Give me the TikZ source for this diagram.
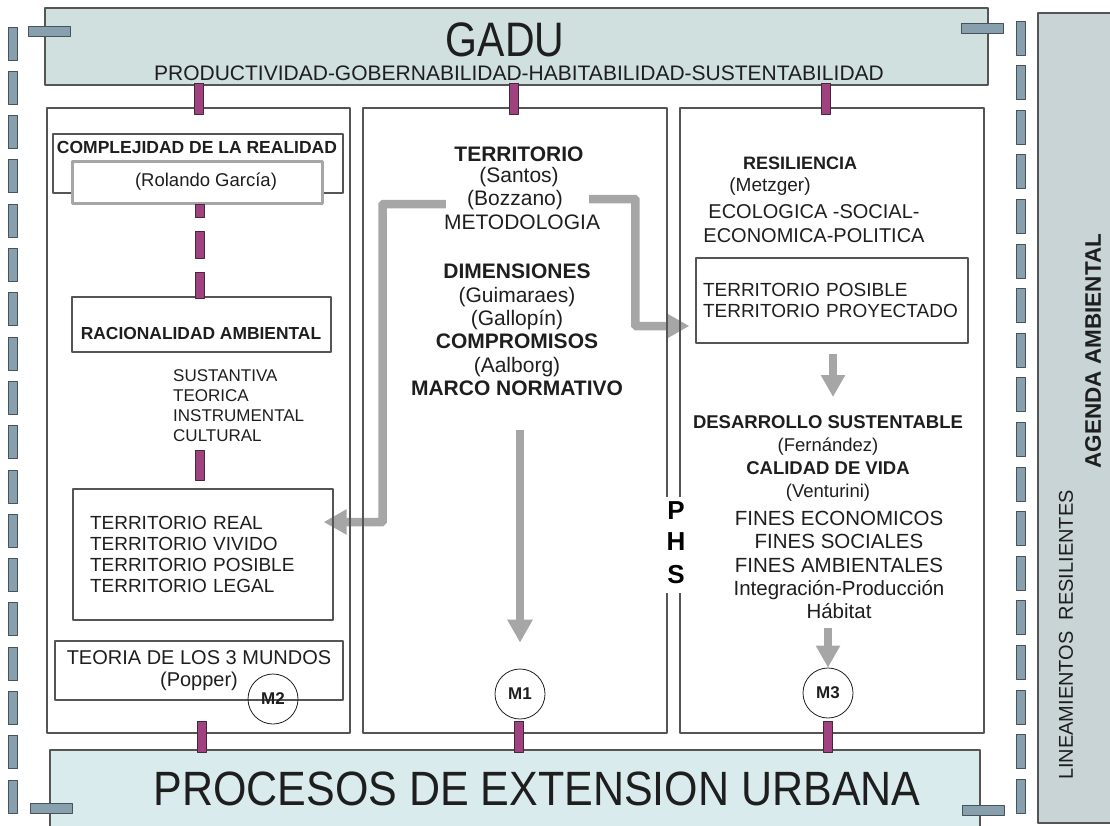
\documentclass[tikz,border=0pt]{standalone}
\usepackage{fontspec}
\setmainfont{Liberation Sans}
\usetikzlibrary{arrows.meta,backgrounds}
\definecolor{slate}{RGB}{136,160,174}
\definecolor{slatedk}{RGB}{72,82,92}
\definecolor{magent}{RGB}{160,66,128}
\definecolor{magentdk}{RGB}{70,40,60}
\definecolor{gadufill}{RGB}{208,224,222}
\definecolor{basefill}{RGB}{218,235,238}
\definecolor{panelfill}{RGB}{200,212,214}
\definecolor{arrgray}{RGB}{166,166,166}
\definecolor{edge}{RGB}{85,85,85}
\definecolor{ink}{RGB}{30,30,30}
\newcommand{\fs}[2]{\fontsize{#1}{#2}\selectfont}
\begin{document}
\begin{tikzpicture}[x=1pt,y=-1pt,line join=round]
	\tikzset{every node/.style={inner sep=0pt,align=center,text=ink},
		bx/.style={draw=edge,line width=1.3pt},
		bar/.style={draw=slatedk,fill=slate,line width=0.9pt},
		link/.style={draw=magentdk,fill=magent,line width=0.7pt},
		garrow/.style={draw=arrgray,line width=8.5pt,rounded corners=1pt,-{Triangle[length=23pt,width=24pt]}},
		mcirc/.style={draw=ink,circle,minimum size=50pt,line width=0.8pt,font=\bfseries\fs{17}{17}}}
	\useasboundingbox (0,0) rectangle (1110,825);
	% panel de la derecha
	\fill[panelfill] (1038,13) rectangle (1115,823);
	\draw[edge,line width=1.2pt] (1115,13) -- (1038,13) -- (1038,823) -- (1115,823);
	\node[rotate=90,font=\fs{20}{20}] (linea) at (1066,635) {LINEAMIENTOS~~RESILIENTES};
	\node[rotate=90,font=\bfseries\fs{22.5}{22.5}] (agenda) at (1093,351) {AGENDA AMBIENTAL};
	% GADU y base
	\draw[bx,fill=gadufill] (45,8) rectangle (988,85);
	\node[font=\fs{41}{41}] (gadu) at (505,40) {\scalebox{1}[1.18]{GADU}};
	\node[font=\fs{21}{21}] (prod) at (519,73) {PRODUCTIVIDAD-GOBERNABILIDAD-HABITABILIDAD-SUSTENTABILIDAD};
	\draw[bx,fill=basefill] (50,750) rectangle (980,830);
	\node[font=\fs{43}{43}] (proc) at (537,789) {\scalebox{1}[1.12]{PROCESOS DE EXTENSION URBANA}};
	% columna izquierda
	\draw[bx] (53,134) rectangle (343,193);
	\node[font=\bfseries\fs{17.5}{17.5}] (compl) at (197,147) {COMPLEJIDAD DE LA REALIDAD};
	\node[draw=arrgray,line width=3pt,fill=white,minimum width=250pt,minimum height=42pt,font=\fs{18.5}{18.5}] (rolando) at (197.5,182) {\hspace{17pt}(Rolando García)};
	\draw[bx] (72,297) rectangle (331,352);
	\node[font=\bfseries\fs{17.4}{17.4}] (racio) at (201,334) {RACIONALIDAD AMBIENTAL};
	\node[anchor=west,align=left,font=\fs{17}{20}] (sust) at (173,406) {SUSTANTIVA\\TEORICA\\INSTRUMENTAL\\CULTURAL};
	\node[bx,minimum width=260pt,minimum height=131pt,text width=226pt,inner sep=17pt,align=left,font=\fs{19}{21}] (treal) at (203,554.5) {TERRITORIO REAL\\TERRITORIO VIVIDO\\TERRITORIO POSIBLE\\TERRITORIO LEGAL};
	\node[bx,minimum width=288pt,minimum height=59pt,font=\fs{20}{22}] (teoria) at (199,670.5) {TEORIA DE LOS 3 MUNDOS\\(Popper)};
	\node[mcirc] (m2) at (273,699) {M2};
	% columna central
	\node[font=\fs{21}{21.5}] (mterr) at (519,167) {\textbf{TERRITORIO}\\(Santos)};
	\node[font=\fs{21}{21}] (bozz) at (515,200) {(Bozzano)};
	\node[font=\fs{21}{21}] (metod) at (522,222) {METODOLOGIA};
	\node[font=\fs{21}{23.4}] (mdim) at (517,330) {\textbf{DIMENSIONES}\\(Guimaraes)\\(Gallopín)\\\textbf{COMPROMISOS}\\(Aalborg)\\\textbf{MARCO NORMATIVO}};
	\node[mcirc] (m1) at (520,694) {M1};
	% columna derecha
	\node[font=\bfseries\fs{18}{18}] (resil) at (800,163) {RESILIENCIA};
	\node[font=\fs{19}{19}] (metz) at (770,187) {(Metzger)};
	\node[font=\fs{20}{24}] (eco) at (814,224) {ECOLOGICA -SOCIAL-\\ECONOMICA-POLITICA};
	\node[bx,minimum width=272pt,minimum height=85pt,text width=258pt,inner sep=7pt,align=left,font=\fs{19}{21}] (rposs) at (832,300.5) {TERRITORIO POSIBLE\\TERRITORIO PROYECTADO};
	\node[font=\fs{18.5}{23}] (rdes) at (828,458) {\textbf{DESARROLLO SUSTENTABLE}\\(Fernández)\\\textbf{CALIDAD DE VIDA}\\(Venturini)};
	\node[font=\fs{20.5}{23.3}] (rfin) at (839,565) {FINES ECONOMICOS\\FINES SOCIALES\\FINES AMBIENTALES\\Integración-Producción\\Hábitat};
	\node[mcirc] (m3) at (828,693) {M3};
	\coordinate (ltip) at ([shift={(-10,-32.5)}]treal.east);
	\coordinate (rtip) at ([shift={(-6,25.5)}]rposs.west);
	\coordinate (m1top) at (520,430);
	\coordinate (r1tip) at (833,397);
	\coordinate (r2top) at (828,628);
	\begin{scope}[on background layer]
		\draw[garrow] ([shift={(-21,4)}]bozz.west) -| ([shift={(59,0)}]ltip) -- (ltip);
		\draw[garrow] ([shift={(26,-1)}]bozz.east) -| ([shift={(-54,0)}]rtip) -- (rtip);
		\draw[garrow] (m1top) -- ([shift={(0,-26)}]m1.north);
		\draw[garrow,-{Triangle[length=22pt,width=23pt]}] ([shift={(1,10)}]rposs.south) -- (r1tip);
		\draw[garrow,-{Triangle[length=22pt,width=23pt]}] (r2top) -- (m3.north);
	\end{scope}
	% columnas
	\draw[bx] (47,108) rectangle (350,733);
	\draw[bx] (363,108) rectangle (667,733);
	\draw[bx] (680,108) rectangle (984,733);
	\fill[white] (664,497) rectangle (692,593);
	\foreach \y/\l in {511/P,542/H,575/S}
		\node[font=\bfseries\fs{26}{26},text=black] (phs\l) at (676,\y) {\l};
	% conectores
	\foreach \x in {199,514,826}
		\draw[link] ({\x-4.5},83) rectangle ({\x+4.5},114);
	\foreach \x in {202,519,828}
		\draw[link] ({\x-4.5},721) rectangle ({\x+4.5},752);
	\foreach \a/\b in {204/217,231/258,272/298,450/480}
		\draw[link] (195,\a) rectangle (204,\b);
	\foreach \k in {0,...,17}{
		\draw[bar] (8,{27+44.3*\k}) rectangle (17,{60+44.3*\k});
		\draw[bar] (1016,{21+44.6*\k}) rectangle (1025,{55+44.6*\k});
	}
	\foreach \x/\y in {28/26,961/23,30/803,962/805}
		\draw[bar] (\x,\y) rectangle ({\x+42},{\y+10});
\end{tikzpicture}
\end{document}
